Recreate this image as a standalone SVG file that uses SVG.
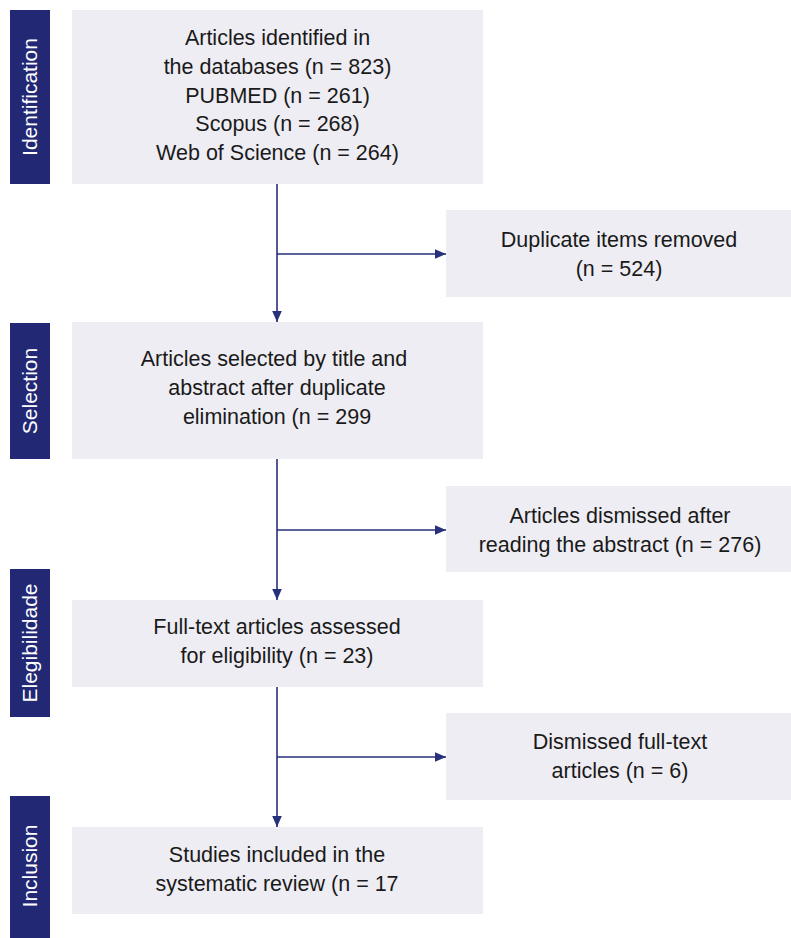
<svg xmlns="http://www.w3.org/2000/svg" width="791" height="938" viewBox="0 0 791 938">
<style>
.bar{fill:#222874}
.box{fill:#eeedf3}
.lbl{font-family:"Liberation Sans",Arial,sans-serif;font-size:21px;fill:#ffffff;text-anchor:middle}
.t{font-family:"Liberation Sans",Arial,sans-serif;font-size:21.5px;fill:#1a1a1a;text-anchor:middle}
.ln{stroke:#27307a;stroke-width:1.6;fill:none}
</style>
<defs>
<marker id="ah" viewBox="0 0 10 10" refX="10" refY="5" markerWidth="11" markerHeight="11" markerUnits="userSpaceOnUse" orient="auto">
<path d="M0,0.6 L10,5 L0,9.4 Z" fill="#27307a"/>
</marker>
</defs>
<rect width="791" height="938" fill="#ffffff"/>

<g id="stage-identification">
<rect class="bar" x="10" y="10" width="40" height="174"/>
<text class="lbl" transform="translate(37,97) rotate(-90)">Identification</text>
</g>
<g id="stage-selection">
<rect class="bar" x="10" y="323" width="40" height="136"/>
<text class="lbl" transform="translate(37,391) rotate(-90)">Selection</text>
</g>
<g id="stage-elegibilidade">
<rect class="bar" x="10" y="569" width="40" height="148"/>
<text class="lbl" transform="translate(37,643) rotate(-90)">Elegibilidade</text>
</g>
<g id="stage-inclusion">
<rect class="bar" x="10" y="796" width="40" height="142"/>
<text class="lbl" transform="translate(37,866) rotate(-90)">Inclusion</text>
</g>

<g id="identified">
<rect class="box" x="72" y="10" width="411" height="174"/>
<text class="t" x="277.5" y="45">Articles identified in</text>
<text class="t" x="277.5" y="74">the databases (n = 823)</text>
<text class="t" x="277.5" y="102.5">PUBMED (n = 261)</text>
<text class="t" x="277.5" y="131">Scopus (n = 268)</text>
<text class="t" x="277.5" y="160">Web of Science (n = 264)</text>
</g>
<g id="duplicates">
<rect class="box" x="446" y="210" width="345" height="87"/>
<text class="t" x="619" y="247">Duplicate items removed</text>
<text class="t" x="619" y="276">(n = 524)</text>
</g>
<g id="selected">
<rect class="box" x="72" y="322" width="411" height="137"/>
<text class="t" x="274" y="366">Articles selected by title and</text>
<text class="t" x="277" y="395">abstract after duplicate</text>
<text class="t" x="277" y="424">elimination (n = 299</text>
</g>
<g id="dismissed-abstract">
<rect class="box" x="446" y="486" width="345" height="86"/>
<text class="t" x="620" y="523">Articles dismissed after</text>
<text class="t" x="620" y="552">reading the abstract (n = 276)</text>
</g>
<g id="fulltext">
<rect class="box" x="72" y="600" width="411" height="87"/>
<text class="t" x="277" y="634">Full-text articles assessed</text>
<text class="t" x="277" y="663">for eligibility (n = 23)</text>
</g>
<g id="dismissed-fulltext">
<rect class="box" x="446" y="713" width="345" height="87"/>
<text class="t" x="620" y="749">Dismissed full-text</text>
<text class="t" x="620" y="778">articles (n = 6)</text>
</g>
<g id="included">
<rect class="box" x="72" y="827" width="411" height="87"/>
<text class="t" x="277" y="862">Studies included in the</text>
<text class="t" x="277" y="891">systematic review (n = 17</text>
</g>

<g id="connectors">
<line class="ln" x1="277" y1="184" x2="277" y2="322" marker-end="url(#ah)"/>
<line class="ln" x1="277" y1="254" x2="446" y2="254" marker-end="url(#ah)"/>
<line class="ln" x1="277" y1="459" x2="277" y2="600" marker-end="url(#ah)"/>
<line class="ln" x1="277" y1="530" x2="446" y2="530" marker-end="url(#ah)"/>
<line class="ln" x1="277" y1="687" x2="277" y2="827" marker-end="url(#ah)"/>
<line class="ln" x1="277" y1="757" x2="446" y2="757" marker-end="url(#ah)"/>
</g>
</svg>
